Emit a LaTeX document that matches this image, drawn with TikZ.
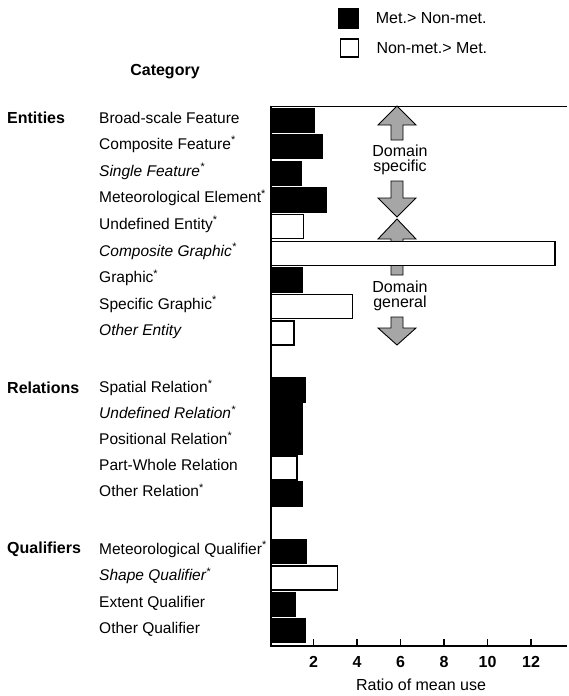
\documentclass[tikz,border=0pt]{standalone}
\usepackage{fontspec}
\setmainfont{Liberation Sans}
\usetikzlibrary{positioning}
\newcommand{\signif}{\textsuperscript{*}}
\tikzset{
  txt/.style={font=\fontsize{16}{18}\selectfont,inner sep=0pt},
  itemlbl/.style={anchor=mid west,font=\fontsize{15.5}{17}\selectfont,inner sep=0pt},
  grouplbl/.style={anchor=mid west,font=\fontsize{16}{18}\selectfont\bfseries,inner sep=0pt},
  bar/.style={draw=black,line width=1.4pt},
  domarrow/.style={draw=black,fill=black!35,line width=0.9pt},
}

\begin{document}
\begin{tikzpicture}[x=1pt,y=-1pt]
  \useasboundingbox (0,0) rectangle (569,696);
  % legend
  \node[draw,fill=black,minimum size=20pt,inner sep=0pt] (keymet) at (348.5,18) {};
  \node[draw,line width=1.6pt,minimum size=18pt,inner sep=0pt] (keynon) at (349.5,48) {};
  \node[txt,right=17pt of keymet] (keymettxt) {Met.> Non-met.};
  \node[txt,right=17pt of keynon] (keynontxt) {Non-met.> Met.};
  \node[grouplbl,anchor=center] (cat) at (165,72) {Category};
  % domain arrows, drawn before the bars
  \foreach \t/\h/\e in {106/125/140,217/198/181,219/239/275,345/328/317}
    \draw[domarrow] (397,\t) -- (416,\h) -- (403,\h) -- (403,\e) -- (391,\e) -- (391,\h) -- (378,\h) -- cycle;
  \node[txt] (dom1) at (400,151) {Domain};
  \node[txt,below=3pt of dom1] (spec) {specific};
  \node[txt] (dom2) at (400,287) {Domain};
  \node[txt,below=3pt of dom2] (gen) {general};
  % groups
  \node[grouplbl] (ent) at (7,121) {Entities};
  \node[grouplbl] (rel) at (7,391) {Relations};
  \node[grouplbl] (qual) at (7,551) {Qualifiers};
  % bars and their labels
  \foreach \y/\t/\v/\c [count=\i] in {120.5/Broad-scale Feature/2.03/black,
      146.5/Composite Feature\signif/2.42/black,
      173.5/\textit{Single Feature\signif}/1.45/black,
      200/Meteorological Element\signif/2.58/black,
      226.5/Undefined Entity\signif/1.53/white,
      253.5/\textit{Composite Graphic\signif}/13.1/white,
      280/Graphic\signif/1.47/black,
      306.5/Specific Graphic\signif/3.8/white,
      333/\textit{Other Entity}/1.1/white,
      390/Spatial Relation\signif/1.6/black,
      416/\textit{Undefined Relation\signif}/1.5/black,
      442/Positional Relation\signif/1.5/black,
      468/Part-Whole Relation/1.24/white,
      494/Other Relation\signif/1.47/black,
      551.5/Meteorological Qualifier\signif/1.69/black,
      578/\textit{Shape Qualifier\signif}/3.1/white,
      604.5/Extent Qualifier/1.15/black,
      630.5/Other Qualifier/1.61/black} {
    \draw[bar,fill=\c] (271,\y-12) rectangle ({270+21.75*\v},\y+12);
    \node[itemlbl] (lbl\i) at (99,\y) {\t};
  }
  % axes
  \draw[line width=0.8pt] (271,106) -- (567,106);
  \draw[line width=1.5pt] (271,106) -- (271,646) -- (567,646);
  \foreach \n in {2,4,...,12} {
    \draw[line width=1.2pt] ({270+21.75*\n},646) -- ++(0,-7);
    \node[txt,font=\fontsize{16}{18}\selectfont\bfseries] (tick\n) at ({270+21.75*\n},662) {\n};
  }
  \node[txt] (xlab) at (421,685) {Ratio of mean use};
\end{tikzpicture}
\end{document}
